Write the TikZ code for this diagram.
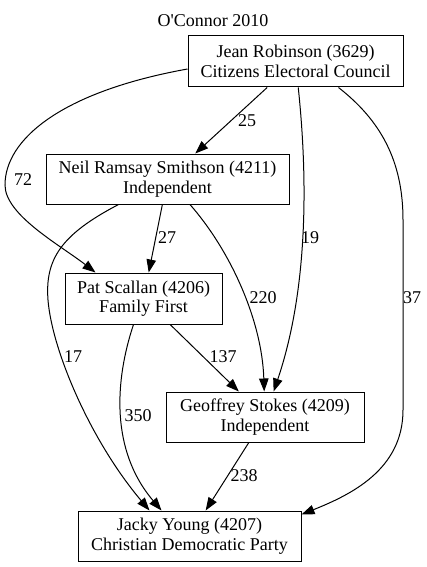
\documentclass[tikz,border=0pt]{standalone}
\usepackage{fontspec}
\setmainfont{Liberation Serif}
\usetikzlibrary{arrows.meta}
\tikzset{
  cand/.style={draw, rectangle, inner sep=0pt, align=center,
    font=\fontsize{18}{19.5}\selectfont},
  votes/.style={inner sep=0pt, font=\fontsize{18}{19.5}\selectfont},
  flow/.style={->, line width=1pt}
}

\begin{document}
\begin{tikzpicture}[x=1pt, y=-1pt, line width=1pt,
  >={Triangle[length=13pt,width=9.5pt]}]
\useasboundingbox (0,0) rectangle (427,567);

% Title
\node[votes] (title) at (213,21) {O\textquotesingle Connor 2010};

% Candidates
\node[cand, minimum width=215pt, minimum height=51pt] (jean) at (295.5,61.5)
  {Jean Robinson (3629)\\Citizens Electoral Council};
\node[cand, minimum width=243pt, minimum height=50pt] (neil) at (167.5,179)
  {Neil Ramsay Smithson (4211)\\Independent};
\node[cand, minimum width=157pt, minimum height=51pt] (pat) at (143.5,298.5)
  {Pat Scallan (4206)\\Family First};
\node[cand, minimum width=198pt, minimum height=50pt] (geoffrey) at (265,417)
  {Geoffrey Stokes (4209)\\Independent};
\node[cand, minimum width=223pt, minimum height=50pt] (jacky) at (189.5,536)
  {Jacky Young (4207)\\Christian Democratic Party};

% Preference flows
\draw[flow] (jean) -- (neil);
\draw[flow] ([yshift=-7.5pt]jean.west) .. controls (60,92) and (5,140) .. (5,185)
  .. controls (5,215) and (60,245) .. ([xshift=-48pt]pat.north);
\draw[flow] (jean) .. controls (308,180) and (308,290) .. (geoffrey);
\draw[flow] ([xshift=43pt]jean.south) .. controls (380,120) and (403,160) .. (403,220)
  -- (403,410) .. controls (403,470) and (350,495) .. ([yshift=-4pt]jacky.north east);
\draw[flow] (neil) -- (pat);
\draw[flow] (neil) .. controls (230,250) and (262,320) .. (geoffrey);
\draw[flow] (neil) .. controls (60,235) and (45,260) .. (48,300)
  .. controls (52,350) and (90,440) .. ([xshift=-40pt]jacky.north);
\draw[flow] ([xshift=-10pt]pat.south) .. controls (115,380) and (110,450)
  .. ([xshift=-28pt]jacky.north);
\draw[flow] (pat) -- (geoffrey);
\draw[flow] (geoffrey) -- (jacky);

% Vote counts
\node[votes] (v25) at (247,121) {25};
\node[votes] (v72) at (23,180) {72};
\node[votes] (v27) at (167,238) {27};
\node[votes] (v19) at (310,238) {19};
\node[votes] (v37) at (412,298) {37};
\node[votes] (v220) at (263,298) {220};
\node[votes] (v17) at (73,357) {17};
\node[votes] (v137) at (223,357) {137};
\node[votes] (v350) at (138,416) {350};
\node[votes] (v238) at (244,476) {238};
\end{tikzpicture}
\end{document}
